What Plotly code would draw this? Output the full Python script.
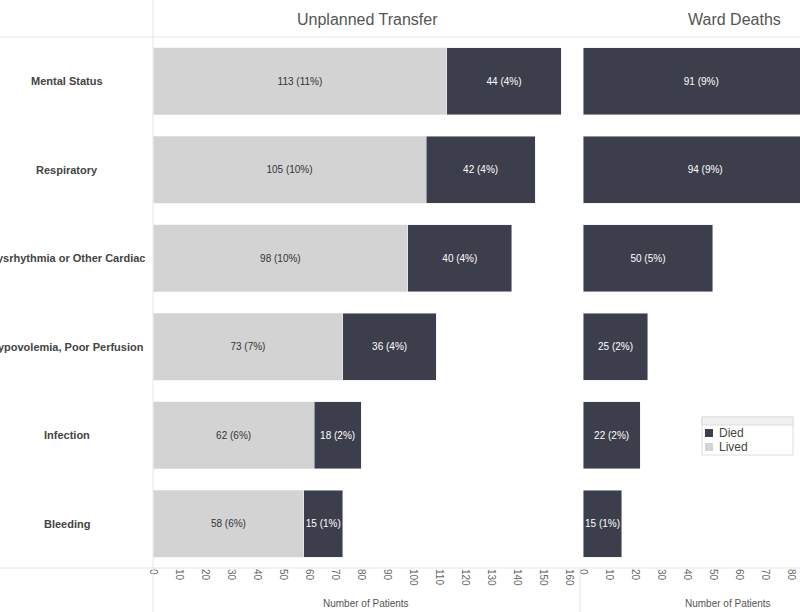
import plotly.graph_objects as go

CATEGORIES = ["Mental Status", "Respiratory", "Dysrhythmia or Other Cardiac",
              "Hypovolemia, Poor Perfusion", "Infection", "Bleeding"]

TRANSFER_LIVED = [113, 105, 98, 73, 62, 58]
TRANSFER_LIVED_PCT = [11, 10, 10, 7, 6, 6]
TRANSFER_DIED = [44, 42, 40, 36, 18, 15]
TRANSFER_DIED_PCT = [4, 4, 4, 4, 2, 1]

WARD_DIED = [91, 94, 50, 25, 22, 15]
WARD_DIED_PCT = [9, 9, 5, 2, 2, 1]

LEFT_TICKS = list(range(0, 161, 10))
RIGHT_TICKS = list(range(0, 81, 10))

LEGEND_ITEMS = ["Died", "Lived"]

LIVED_COLOR = "#d3d3d3"
DIED_COLOR = "#3c3e4c"
LINE_COLOR = "#e6e6e6"
TEXT_COLOR = "#444444"
FONT = "Liberation Sans, Arial, sans-serif"
NARROW = "Liberation Sans Narrow, Arial Narrow, Liberation Sans, sans-serif"

W, H = 800, 612


def px_x(v):
    return v / W


def px_y(v):
    return 1 - v / H


def labels(vals, pcts):
    return [f"{v} ({p}%)" for v, p in zip(vals, pcts)]


fig = go.Figure()

fig.add_trace(go.Bar(
    y=CATEGORIES, x=TRANSFER_LIVED, orientation="h", name="Lived",
    marker_color=LIVED_COLOR, text=labels(TRANSFER_LIVED, TRANSFER_LIVED_PCT),
    textposition="inside", insidetextanchor="middle", textangle=0,
    textfont=dict(color="#333333", size=10, family=FONT),
    xaxis="x", yaxis="y", showlegend=False,
))
fig.add_trace(go.Bar(
    y=CATEGORIES, x=TRANSFER_DIED, orientation="h", name="Died",
    marker_color=DIED_COLOR, text=labels(TRANSFER_DIED, TRANSFER_DIED_PCT),
    textposition="inside", insidetextanchor="middle", textangle=0,
    textfont=dict(color="white", size=10, family=FONT),
    xaxis="x", yaxis="y", showlegend=False,
))
fig.add_trace(go.Bar(
    y=CATEGORIES, x=WARD_DIED, orientation="h", name="Died",
    marker_color=DIED_COLOR, text=labels(WARD_DIED, WARD_DIED_PCT),
    textposition="inside", insidetextanchor="middle", textangle=0,
    textfont=dict(color="white", size=10, family=FONT),
    xaxis="x2", yaxis="y2", showlegend=False,
))

ydom = [px_y(568), px_y(37)]
axis_common = dict(
    showgrid=False, zeroline=False, showline=False,
    tickangle=90, tickfont=dict(size=10, color="#666666", family=NARROW),
    ticks="", automargin=False,
)

fig.update_layout(
    width=W, height=H,
    margin=dict(l=0, r=0, t=0, b=0),
    paper_bgcolor="white", plot_bgcolor="white",
    barmode="stack", bargap=0.24,
    font=dict(family=FONT, color=TEXT_COLOR),
    uniformtext=dict(minsize=10, mode="show"),
    xaxis=dict(domain=[px_x(153), px_x(575)], range=[0, 162.3],
               tickvals=LEFT_TICKS, anchor="y", **axis_common),
    xaxis2=dict(domain=[px_x(583), 1.0], range=[0, 83.5],
                tickvals=RIGHT_TICKS, anchor="y2", **axis_common),
    yaxis=dict(domain=ydom, categoryorder="array", categoryarray=CATEGORIES,
               autorange="reversed", showticklabels=False, showgrid=False,
               zeroline=False, anchor="x"),
    yaxis2=dict(domain=ydom, categoryorder="array", categoryarray=CATEGORIES,
                autorange="reversed", showticklabels=False, showgrid=False,
                zeroline=False, anchor="x2"),
)

# panel titles and axis titles
annos = [
    dict(text="Unplanned Transfer", x=px_x(367), y=px_y(20), size=16, fam=NARROW, color="#555555"),
    dict(text="Ward Deaths", x=px_x(734), y=px_y(20), size=16, fam=NARROW, color="#555555"),
    dict(text="Number of Patients", x=px_x(366), y=px_y(603), size=10, fam=NARROW, color="#555555"),
    dict(text="Number of Patients", x=px_x(728), y=px_y(603), size=10, fam=NARROW, color="#555555"),
]
for a in annos:
    fig.add_annotation(text=a["text"], x=a["x"], y=a["y"], xref="paper", yref="paper",
                       showarrow=False, xanchor="center", yanchor="middle",
                       font=dict(size=a["size"], family=a["fam"], color=a["color"]))

# category row labels (centred in the left header column, clipped by the page edge)
for cat in CATEGORIES:
    fig.add_annotation(text=f"<b>{cat}</b>", x=px_x(67), xref="paper", y=cat, yref="y",
                       showarrow=False, xanchor="center",
                       font=dict(size=11, family=FONT, color="#444444"))

# frame lines
shapes = [
    dict(x0=0, x1=1, y0=px_y(37), y1=px_y(37)),
    dict(x0=0, x1=1, y0=px_y(568), y1=px_y(568)),
    dict(x0=px_x(153), x1=px_x(153), y0=0, y1=1),
    dict(x0=px_x(580), x1=px_x(580), y0=0, y1=px_y(568)),
]
for s in shapes:
    fig.add_shape(type="line", xref="paper", yref="paper", line=dict(color=LINE_COLOR, width=1), **s)

# legend box, drawn by hand to match the small Tableau-style legend
fig.add_shape(type="rect", xref="paper", yref="paper",
              x0=px_x(702), x1=px_x(793), y0=px_y(455), y1=px_y(417),
              fillcolor="white", line=dict(color="#dddddd", width=1), layer="above")
fig.add_shape(type="rect", xref="paper", yref="paper",
              x0=px_x(702), x1=px_x(793), y0=px_y(425), y1=px_y(417),
              fillcolor="#f0f0f0", line=dict(color="#dddddd", width=1), layer="above")
for i, (name, col) in enumerate(zip(LEGEND_ITEMS, [DIED_COLOR, LIVED_COLOR])):
    cy = 433 + 14 * i
    fig.add_shape(type="rect", xref="paper", yref="paper",
                  x0=px_x(705), x1=px_x(713), y0=px_y(cy + 4), y1=px_y(cy - 4),
                  fillcolor=col, line=dict(width=0), layer="above")
    fig.add_annotation(text=name, x=px_x(717), y=px_y(cy), xref="paper", yref="paper",
                       showarrow=False, xanchor="left", yanchor="middle",
                       font=dict(size=12, family=FONT, color="#444444"))

fig.write_html("out.html", config={"displayModeBar": False},
               post_script="document.body.style.margin='0';")
